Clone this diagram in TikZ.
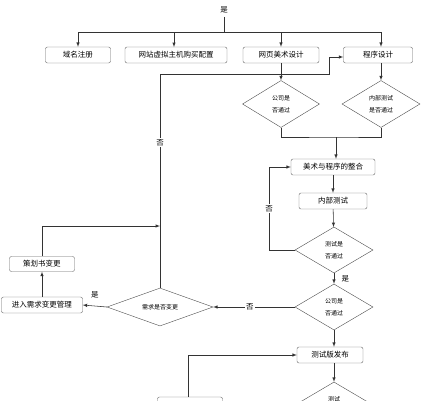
\documentclass[tikz,border=0pt]{standalone}
\usepackage{fontspec}
\newfontfamily\cjk{Noto Sans CJK SC}
\usetikzlibrary{arrows,shapes.geometric,positioning}

\begin{document}
\begin{tikzpicture}[x=1pt,y=-1pt,>=latex,
    every node/.style={font=\cjk\fontsize{7.5}{9}\selectfont},
    box/.style={draw=black!60,rounded corners=2pt,minimum height=16pt,inner sep=1pt},
    decision/.style={draw=black!70,diamond,aspect=1.65,inner sep=0pt,align=center,
      font=\cjk\fontsize{6}{12}\selectfont},
    EdgeStyle/.style={draw=black!80,line width=0.55pt},
    yn/.style={fill=white,inner sep=1pt}]
          \useasboundingbox (0,0) rectangle (421,400);

          % top row
          \node (yes0) at (224,10){是};
          \coordinate (bus) at (224,32);
          \node[box,minimum width=65pt] (domain) at (78,55){域名注册};
          \node[box,minimum width=102pt] (host) at (176,55){网站虚拟主机购买配置};
          \node[box,minimum width=76pt] (art) at (281,55){网页美术设计};
          \node[box,minimum width=69pt] (code) at (378,55){程序设计};

          \node[decision,minimum width=77pt,minimum height=47pt] (artok) at (281,104){公司是\\否通过};
          \node[decision,minimum width=78pt,minimum height=47pt] (codeok) at (381,104){内部测试\\是否通过};

          % main column
          \node[box,minimum width=84pt] (merge) at (333,167){美术与程序的整合};
          \node[box,minimum width=68pt] (itest) at (333,201){内部测试};
          \node[decision,minimum width=78pt,minimum height=46pt] (testok) at (334,250){测试是\\否通过};
          \node[decision,minimum width=78pt,minimum height=46pt] (firmok) at (334,307){公司是\\否通过};
          \node[box,minimum width=66pt] (beta) at (330,355){测试版发布};
          \node[decision,minimum width=78pt,minimum height=46pt] (last) at (334,405){测试\\};
          \node[box,minimum width=65pt] (lastbox) at (190,405){};

          % change branch
          \node[decision,minimum width=106pt,minimum height=38pt] (change) at (160,307){需求是否变更};
          \node[box,minimum width=81pt] (req) at (42,305){进入需求变更管理};
          \node[box,minimum width=65pt,minimum height=15pt] (plan) at (42,264){策划书变更};

          % top bus
          \draw[EdgeStyle] (yes0) -- (bus);
          \draw[EdgeStyle] (domain.north |- bus) -- (codeok.north |- bus);
          \draw[EdgeStyle,->] (domain.north |- bus) -- (domain.north);
          \draw[EdgeStyle,->] (174,32) -- (174,47);
          \draw[EdgeStyle,->] (art.north |- bus) -- (art.north);
          \draw[EdgeStyle,->] (codeok.north |- bus) -- (codeok.north |- code.north);
          \draw[EdgeStyle,->] (art) -- (artok);
          \draw[EdgeStyle,->] (codeok.north |- code.south) -- (codeok);

          % join
          \coordinate (join) at (336,137);
          \draw[EdgeStyle] (artok.south) |- (join) -| (codeok.south);
          \draw[EdgeStyle,->] (join) -- (join |- merge.north);

          % test loop
          \draw[EdgeStyle,->] (merge) -- (itest);
          \draw[EdgeStyle,->] (itest) -- (testok);
          \draw[EdgeStyle,->] (testok.west) -- (269,250) -- node[yn]{否} (269,167) -- (merge.west);
          \draw[EdgeStyle,->] (testok) -- node[right=4pt]{是} (firmok);
          \draw[EdgeStyle,->] (firmok.west) -- node[yn,pos=0.55]{否} (change.east);
          \draw[EdgeStyle,->] (firmok.south) -- (firmok.south |- beta.north);
          \draw[EdgeStyle,->] (last.north |- beta.south) -- (last.north);
          \draw[EdgeStyle,->] (188,397) |- (beta.west);

          % change loop
          \draw[EdgeStyle,->] (change.west) -- node[above=4pt]{是} (req.east);
          \draw[EdgeStyle,->] (req) -- (plan);
          \draw[EdgeStyle,->] (plan.north) |- (change.north |- 0,226);
          \draw[EdgeStyle,->] (change.north) -- node[yn,pos=0.68]{否} (160,74) -- (329,74) -- (329,57) -- (code.west |- 0,57);
        \end{tikzpicture}
\end{document}
